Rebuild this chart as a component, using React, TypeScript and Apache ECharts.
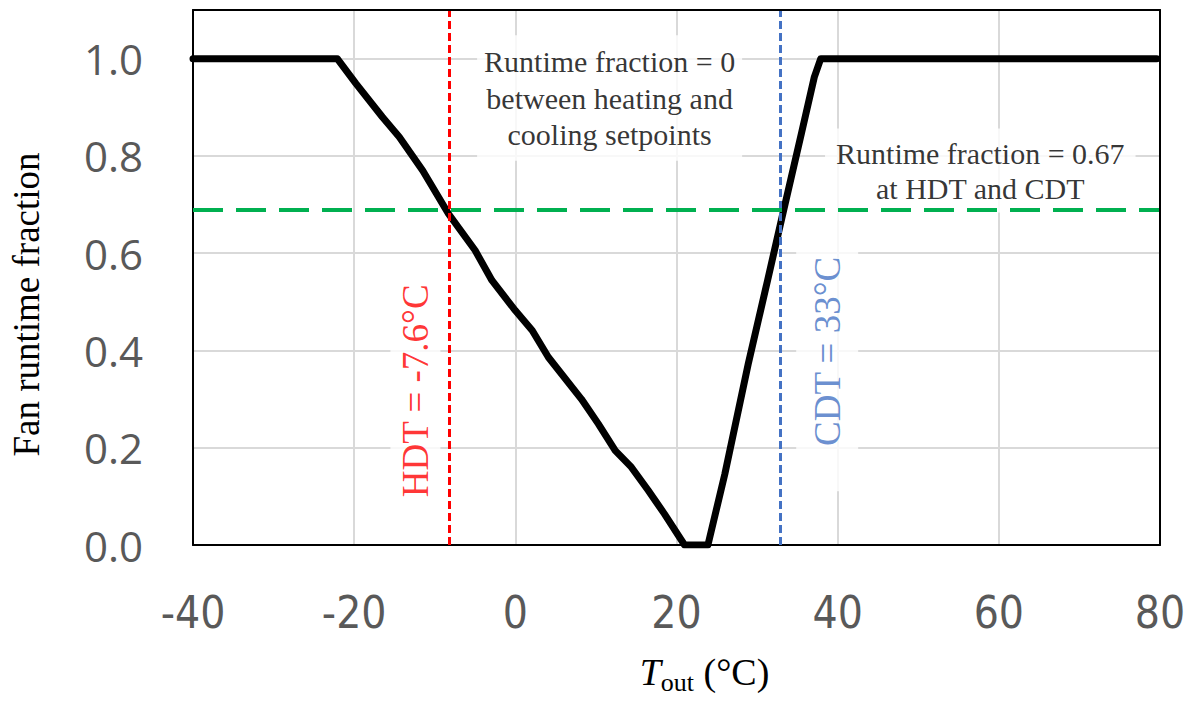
import React, { useEffect, useRef } from "react";
import * as echarts from "echarts";

// Outdoor temperature (°C) and fan runtime fraction
const tempOut = [-40, -22.1, -19.8, -16.5, -14.4, -11.5, -8.3, -5.0, -2.9, 0, 2.1, 4.1, 8.2, 10.3, 12.4, 14.4, 16.5, 18.5, 21.0, 23.9, 26.0, 28.9, 31.3, 33.0, 35.5, 37.1, 37.9, 79.6];
const runtimeFraction = [1, 1, 0.949, 0.88, 0.839, 0.77, 0.681, 0.606, 0.544, 0.482, 0.441, 0.386, 0.3, 0.249, 0.194, 0.16, 0.112, 0.064, 0, 0, 0.146, 0.372, 0.544, 0.667, 0.846, 0.962, 1, 1];

// Reference lines
const hdtLineX = -8.2;
const cdtLineX = 32.9;
const runtimeAtDesignY = 0.686;

// Axis ticks
const xTicks = { min: -40, max: 80, interval: 20 };
const yTicks = { min: 0, max: 1.1, interval: 0.2 };

// Annotation texts and anchors (data coordinates)
const noteZeroText = "Runtime fraction = 0\nbetween heating and\ncooling setpoints";
const noteZeroAt = [11.7, 0.919];
const noteDesignText = "Runtime fraction = 0.67\nat HDT and CDT";
const noteDesignAt = [57.7, 0.77];
const hdtText = "HDT = -7.6°C";
const hdtAt = [-12.4, 0.317];
const cdtText = "CDT = 33°C";
const cdtAt = [38.7, 0.398];

const SERIF = '"Liberation Serif", "Times New Roman", serif';

export default function App() {
  const ref = useRef<HTMLDivElement>(null);
  useEffect(() => {
    if (!ref.current) return;
    const chart = echarts.init(ref.current, undefined, { renderer: "svg" });
    const lineData = tempOut.map((x, i) => [x, runtimeFraction[i]]);
    const boxLabel = (text: string, extra: any) => ({
      show: true,
      position: "inside",
      formatter: text,
      fontFamily: SERIF,
      color: "#000",
      backgroundColor: "#fff",
      ...extra,
    });
    const frameAxis = (position: string) => ({
      type: "value",
      position,
      axisLine: { show: true, onZero: false, lineStyle: { color: "#000", width: 2 } },
      axisTick: { show: false },
      axisLabel: { show: false },
      splitLine: { show: false },
      z: 10,
    });
    chart.setOption({
      animation: false,
      backgroundColor: "#fff",
      grid: {
        left: 190,
        right: 36,
        top: 10,
        bottom: 156,
      },
      xAxis: [
        {
          type: "value",
          min: xTicks.min,
          max: xTicks.max,
          interval: xTicks.interval,
          position: "bottom",
          axisLine: { show: true, onZero: false, lineStyle: { color: "#000", width: 2 } },
          axisTick: { show: false },
          splitLine: { show: true, lineStyle: { color: "#d9d9d9", width: 2 } },
          axisLabel: {
            fontSize: 44,
            color: "#595959",
            margin: 45,
            fontFamily: '"Liberation Sans Narrow", "DejaVu Sans Condensed", "Open Sans", sans-serif',
          },
          name: "{t|T}{s|out}{n| (°C)}",
          nameLocation: "middle",
          nameGap: 104,
          nameTextStyle: {
            padding: [0, 0, 0, 56],
            rich: {
              t: { fontFamily: SERIF, fontStyle: "italic", fontSize: 38, lineHeight: 46, color: "#000" },
              s: { fontFamily: SERIF, fontSize: 26, lineHeight: 20, verticalAlign: "bottom", color: "#000" },
              n: { fontFamily: SERIF, fontSize: 38, lineHeight: 46, color: "#000" },
            },
          },
        },
        { ...frameAxis("top"), min: xTicks.min, max: xTicks.max },
      ],
      yAxis: [
        {
          type: "value",
          min: yTicks.min,
          max: yTicks.max,
          interval: yTicks.interval,
          position: "left",
          axisLine: { show: true, onZero: false, lineStyle: { color: "#000", width: 2 } },
          axisTick: { show: false },
          splitLine: { show: true, lineStyle: { color: "#d9d9d9", width: 2 } },
          axisLabel: {
            fontSize: 42,
            color: "#595959",
            margin: 50,
            fontFamily: '"Open Sans", "Noto Sans", sans-serif',
            formatter: (v: number) => (v > 1.05 ? "" : v.toFixed(1)),
          },
          name: "Fan runtime fraction",
          nameLocation: "middle",
          nameRotate: 90,
          nameGap: 148,
          nameTextStyle: {
            fontFamily: SERIF,
            fontSize: 37,
            color: "#000",
            padding: [0, 54, 0, 0],
          },
        },
        { ...frameAxis("right"), min: yTicks.min, max: yTicks.max },
      ],
      series: [
        {
          type: "scatter",
          symbolSize: 0,
          silent: true,
          z: 2,
          data: [
            { value: noteZeroAt, label: boxLabel(noteZeroText, { fontSize: 30, lineHeight: 36.5, padding: [8, 7, 8, 7] }) },
            { value: noteDesignAt, label: boxLabel(noteDesignText, { fontSize: 30, lineHeight: 35, padding: [7, 11, 7, 11] }) },
            { value: hdtAt, label: boxLabel(hdtText, { fontSize: 37, lineHeight: 40, rotate: 90, color: "#ff0000", padding: [5, 15, 5, 15] }) },
            { value: cdtAt, label: boxLabel(cdtText, { fontSize: 37, lineHeight: 40, rotate: 90, color: "#4472c4", padding: [11, 45, 11, 45] }) },
          ],
        },
        {
          type: "line",
          data: lineData,
          showSymbol: false,
          symbol: "none",
          z: 3,
          lineStyle: { color: "#000", width: 7, join: "round", cap: "round" },
        },
        {
          type: "line",
          data: [],
          z: 5,
          markLine: {
            silent: true,
            symbol: ["none", "none"],
            label: { show: false },
            data: [
              { xAxis: hdtLineX, lineStyle: { color: "#ff0000", width: 3, type: [8, 4] } },
              { xAxis: cdtLineX, lineStyle: { color: "#4472c4", width: 3, type: [8, 4] } },
              { yAxis: runtimeAtDesignY, lineStyle: { color: "#00b050", width: 4, type: [30, 13] } },
            ],
          },
        },
      ],
    });
    return () => chart.dispose();
  }, []);
  return (
    <div
      ref={ref}
      style={{ position: "absolute", left: 0, top: 0, width: 1196, height: 701, background: "#fff" }}
    />
  );
}
